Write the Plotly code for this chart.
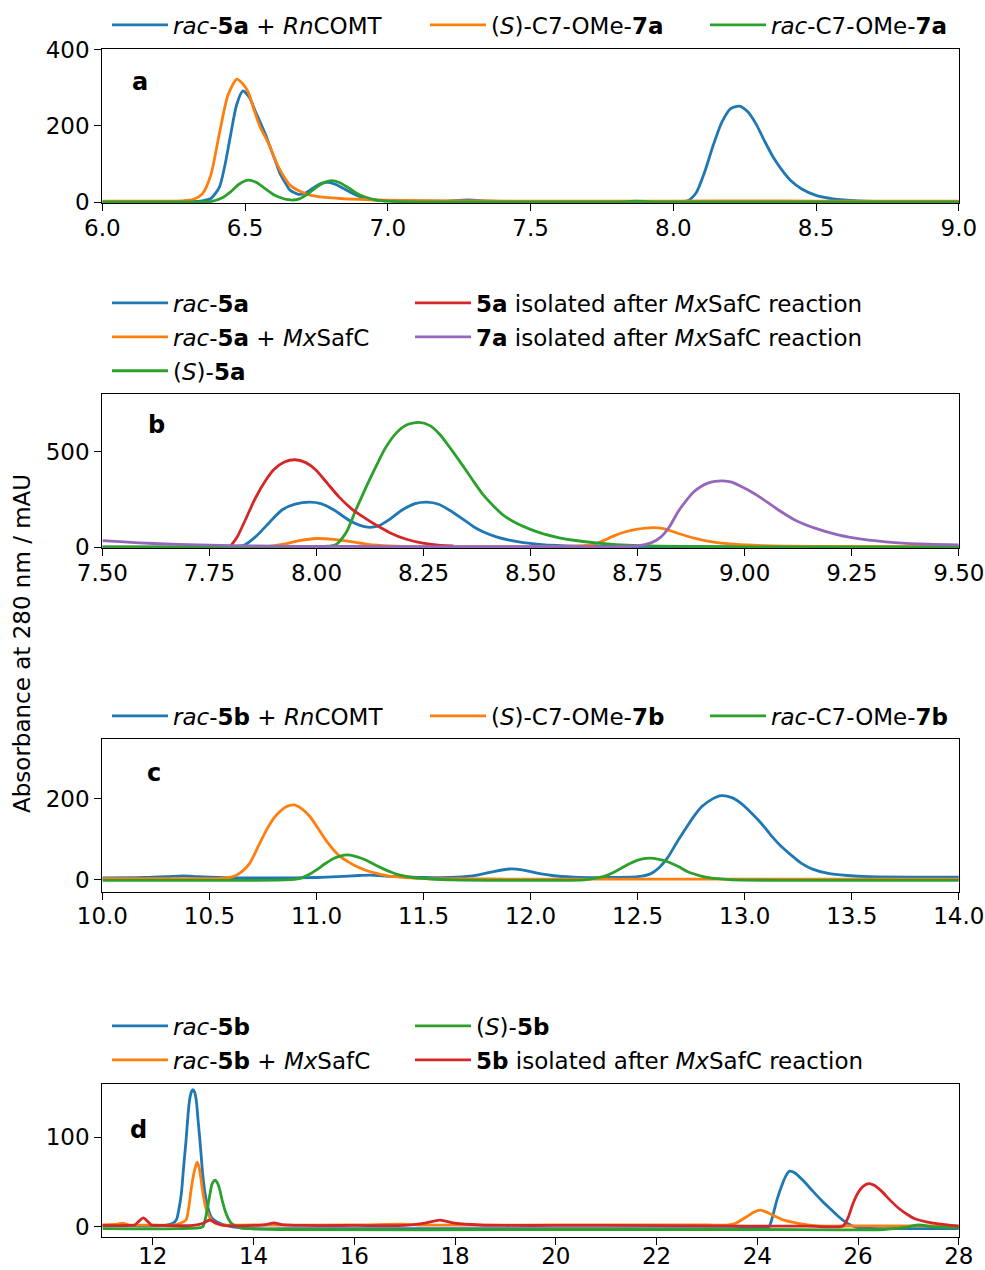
import plotly.graph_objects as go

# ---------------- panel a : rac-5a / RnCOMT, retention 6-9 min ----------------
a_blue_x = [6.00, 6.20, 6.30, 6.35, 6.38, 6.41, 6.43, 6.45, 6.47, 6.492, 6.515, 6.535, 6.552, 6.57,
            6.587, 6.605, 6.622, 6.64, 6.657, 6.686, 6.71, 6.74, 6.765, 6.792, 6.82, 6.845, 6.875,
            6.903, 6.93, 6.96, 7.00, 7.10, 7.20, 7.28, 7.36, 7.50, 7.70, 7.90, 8.00, 8.05, 8.08,
            8.11, 8.14, 8.17, 8.20, 8.231, 8.26, 8.29, 8.32, 8.35, 8.38, 8.41, 8.45, 8.50, 8.56,
            8.65, 8.80, 9.00]
a_blue_y = [2, 2, 2, 4, 10, 40, 100, 180, 255, 292, 275, 240, 211, 180,
            146, 110, 76, 52, 32, 21, 24, 38, 49, 52, 46, 36, 24,
            15, 9, 6, 4, 3, 3, 6, 3, 2, 2, 2, 2, 4, 25,
            80, 150, 210, 245, 252, 238, 205, 160, 118, 85, 58, 35, 18, 9,
            4, 2, 2]

a_orange_x = [6.00, 6.20, 6.28, 6.32, 6.35, 6.38, 6.41, 6.44, 6.471, 6.49, 6.51, 6.53, 6.552,
              6.57, 6.587, 6.605, 6.622, 6.64, 6.657, 6.686, 6.727, 6.792, 6.85, 6.903, 6.96,
              7.05, 7.20, 7.50, 7.80, 8.00, 8.30, 8.50, 8.80, 9.00]
a_orange_y = [3, 3, 4, 8, 22, 72, 181, 281, 323, 312, 290, 245, 198,
              172, 146, 112, 85, 62, 45, 31, 19, 12, 9, 8, 6,
              5, 4, 3, 3, 3, 4, 3, 3, 3]

a_green_x = [6.00, 6.30, 6.38, 6.42, 6.45, 6.48, 6.51, 6.54, 6.566, 6.60, 6.625, 6.65, 6.669,
             6.69, 6.72, 6.75, 6.78, 6.804, 6.83, 6.86, 6.89, 6.92, 6.96, 7.00, 7.10, 7.50,
             7.80, 7.87, 7.95, 8.20, 8.60, 9.00]
a_green_y = [1, 1, 2, 12, 28, 48, 58, 52, 38, 20, 12, 7, 6,
             9, 22, 40, 53, 57, 52, 39, 24, 14, 6, 3, 1, 1,
             1, 3, 1, 1, 1, 1]

# ---------------- panel b : rac-5a / MxSafC, retention 7.5-9.5 min ----------------
b_blue_x = [7.50, 7.70, 7.80, 7.83, 7.86, 7.89, 7.92, 7.95, 7.984, 8.01, 8.04, 8.077, 8.10, 8.12,
            8.145, 8.17, 8.20, 8.23, 8.258, 8.285, 8.31, 8.34, 8.366, 8.39, 8.42, 8.45, 8.483,
            8.52, 8.56, 8.62, 8.70, 8.90, 9.20, 9.50]
b_blue_y = [2, 2, 3, 10, 60, 130, 196, 225, 236, 228, 196, 140, 116, 105,
            112, 145, 195, 228, 236, 225, 195, 150, 109, 80, 55, 38, 25,
            16, 10, 6, 4, 3, 2, 2]

b_orange_x = [7.50, 7.80, 7.88, 7.92, 7.96, 8.00, 8.04, 8.08, 8.12, 8.17, 8.25, 8.40, 8.55, 8.62,
              8.648, 8.67, 8.695, 8.72, 8.75, 8.785, 8.81, 8.843, 8.882, 8.92, 8.975, 9.04,
              9.20, 9.50]
b_orange_y = [1, 1, 3, 15, 35, 46, 42, 30, 16, 8, 4, 3, 4, 8,
              15, 35, 60, 80, 95, 103, 98, 74, 48, 30, 16, 9,
              5, 4]

b_green_x = [7.50, 7.80, 7.95, 8.02, 8.045, 8.07, 8.092, 8.115, 8.139, 8.16, 8.186, 8.21, 8.239,
             8.265, 8.2875, 8.315, 8.342, 8.365, 8.39, 8.415, 8.436, 8.465, 8.498, 8.53, 8.567,
             8.60, 8.648, 8.70, 8.726, 8.80, 9.00, 9.50]
b_green_y = [1, 1, 2, 5, 14, 80, 196, 310, 422, 515, 596, 638, 652,
             635, 590, 510, 425, 350, 272, 212, 168, 128, 95, 70, 50,
             37, 24, 14, 11, 6, 2, 1]

b_red_x = [7.80, 7.815, 7.834, 7.858, 7.88, 7.90, 7.925, 7.95, 7.975, 7.998, 8.025, 8.053, 8.08,
           8.108, 8.14, 8.17, 8.21, 8.248, 8.29, 8.32]
b_red_y = [8, 55, 144, 260, 345, 405, 445, 457, 442, 405, 335, 262, 205,
           160, 115, 78, 42, 22, 10, 8]

b_purple_x = [7.50, 7.55, 7.62, 7.70, 7.80, 7.90, 8.00, 8.20, 8.50, 8.70, 8.75, 8.78, 8.804,
              8.825, 8.843, 8.862, 8.882, 8.90, 8.914, 8.93, 8.949, 8.97, 8.992, 9.015, 9.039,
              9.078, 9.117, 9.164, 9.218, 9.273, 9.351, 9.429, 9.50]
b_purple_y = [35, 28, 20, 14, 9, 6, 5, 4, 3, 4, 7, 22, 53,
              110, 181, 240, 291, 320, 335, 344, 347, 340, 317, 290, 257,
              196, 143, 100, 65, 43, 25, 16, 13]

# ---------------- panel c : rac-5b / RnCOMT, retention 10-14 min ----------------
c_blue_x = [10.00, 10.20, 10.30, 10.378, 10.45, 10.60, 10.80, 11.00, 11.10, 11.20, 11.25, 11.35,
            11.50, 11.65, 11.75, 11.82, 11.90, 11.96, 12.02, 12.10, 12.20, 12.35, 12.50, 12.56,
            12.60, 12.64, 12.68, 12.72, 12.76, 12.80, 12.85, 12.891, 12.94, 12.98, 13.03,
            13.077, 13.12, 13.17, 13.22, 13.265, 13.32, 13.39, 13.48, 13.578, 13.80, 14.00]
c_blue_y = [5, 6, 8, 10, 8, 5, 5, 6, 8, 11, 12, 9,
            6, 7, 12, 20, 27, 25, 18, 11, 7, 6, 8, 15,
            30, 55, 90, 123, 155, 181, 200, 208, 203, 190, 166,
            140, 112, 83, 60, 41, 26, 16, 11, 8, 7, 7]

c_orange_x = [10.00, 10.40, 10.55, 10.61, 10.65, 10.688, 10.73, 10.766, 10.80, 10.829, 10.86,
              10.895, 10.93, 10.97, 11.01, 11.048, 11.08, 11.11, 11.15, 11.188, 11.23, 11.282,
              11.33, 11.39, 11.47, 11.55, 12.00, 13.00, 14.00]
c_orange_y = [3, 3, 4, 8, 20, 41, 85, 123, 152, 169, 181,
              185, 176, 156, 125, 95, 74, 58, 44, 33, 24, 16,
              10, 7, 4, 3, 2, 2, 2]

c_green_x = [10.00, 10.60, 10.85, 10.92, 10.96, 11.00, 11.04, 11.08, 11.11, 11.148, 11.19, 11.23,
             11.27, 11.31, 11.35, 11.39, 11.45, 11.52, 11.63, 12.00, 12.25, 12.31, 12.36, 12.40,
             12.45, 12.50, 12.555, 12.60, 12.64, 12.69, 12.734, 12.78, 12.83, 12.90, 12.95,
             13.20, 13.60, 14.00]
c_green_y = [-1, -1, 0, 3, 12, 25, 40, 53, 59, 62, 57, 49,
             38, 28, 19, 12, 6, 3, 0, -1, 0, 5, 12, 22,
             37, 49, 54, 51, 45, 33, 20, 12, 6, 2, 0,
             -1, -1, -1]

# ---------------- panel d : rac-5b / MxSafC, retention 11-28 min ----------------
d_blue_x = [11.00, 11.50, 12.00, 12.27, 12.40, 12.47, 12.52, 12.567, 12.61, 12.66, 12.70, 12.73,
            12.765, 12.797, 12.83, 12.863, 12.90, 12.93, 12.96, 12.99, 13.06, 13.16, 13.33,
            13.59, 13.93, 15.00, 18.00, 21.00, 23.50, 24.10, 24.23, 24.32, 24.39, 24.50, 24.57,
            24.64, 24.75, 24.90, 25.05, 25.18, 25.30, 25.45, 25.60, 25.73, 25.85, 26.00, 26.50,
            27.00, 28.00]
d_blue_y = [1, 1, 1, 2, 4, 8, 20, 37, 65, 96, 125, 141,
            150, 152.6, 150, 141, 118, 100, 80, 59, 30, 11, 4,
            0, -2, -2, -2, -2, -2, -1, 0, 15, 30, 48, 57,
            62, 60, 52, 43, 35, 28, 20, 12, 6, 2, -1, -2,
            -2, -2]

d_orange_x = [11.00, 11.30, 11.40, 11.55, 12.00, 12.40, 12.55, 12.66, 12.71, 12.76, 12.80, 12.83,
              12.88, 12.92, 12.96, 13.00, 13.05, 13.10, 13.16, 13.25, 13.39, 14.00, 16.00, 16.97,
              17.30, 20.00, 23.00, 23.40, 23.56, 23.78, 23.92, 24.06, 24.20, 24.34, 24.50, 24.67,
              24.90, 25.23, 26.00, 28.00]
d_orange_y = [2, 3, 4, 2, 2, 2, 4, 7.6, 20, 41, 55, 63,
              72, 66, 52, 36, 22, 14, 8, 4, 2, 2, 2, 3,
              2, 2, 2, 2, 3.7, 11, 16, 18.5, 16, 12, 8, 5.5,
              3, 1, 1, 1]

d_green_x = [11.00, 12.50, 12.99, 13.04, 13.09, 13.14, 13.18, 13.24, 13.29, 13.33, 13.38, 13.43,
             13.50, 13.56, 13.73, 14.50, 20.00, 24.00, 26.50, 26.90, 27.19, 27.50, 28.00]
d_green_y = [-2, -2, 0, 8, 22, 38, 48, 52, 48, 41, 29, 19,
             9, 4, -1, -3, -3, -3, -3, -1, 2, 0, -1]

d_red_x = [11.00, 11.50, 11.64, 11.72, 11.81, 11.90, 11.97, 12.20, 12.80, 13.00, 13.13, 13.26,
           13.40, 14.00, 14.25, 14.40, 14.55, 15.00, 16.00, 17.00, 17.40, 17.70, 18.00, 18.50,
           19.00, 20.00, 21.00, 23.00, 25.00, 25.70, 25.80, 25.90, 26.00, 26.10, 26.21, 26.33,
           26.46, 26.63, 26.80, 26.97, 27.13, 27.46, 28.00]
d_red_y = [1.5, 1.5, 2, 6, 10, 6, 2, 1.5, 1.5, 4, 7.6, 4,
           1.5, 1.5, 2.5, 4.5, 2.5, 1.5, 1.5, 1.5, 4, 7.4, 4, 2,
           1.5, 1.5, 1.5, 1, 0.7, 1, 10, 26, 38, 45, 48, 46,
           40, 30, 21, 14, 9, 4.4, 0.7]

# ---------------- legend labels ----------------
a_names = ["<i>rac</i>-<b>5a</b> + <i>Rn</i>COMT", "(<i>S</i>)-C7-OMe-<b>7a</b>",
           "<i>rac</i>-C7-OMe-<b>7a</b>"]
b_names = ["<i>rac</i>-<b>5a</b>", "<i>rac</i>-<b>5a</b> + <i>Mx</i>SafC", "(<i>S</i>)-<b>5a</b>",
           "<b>5a</b> isolated after <i>Mx</i>SafC reaction",
           "<b>7a</b> isolated after <i>Mx</i>SafC reaction"]
c_names = ["<i>rac</i>-<b>5b</b> + <i>Rn</i>COMT", "(<i>S</i>)-C7-OMe-<b>7b</b>",
           "<i>rac</i>-C7-OMe-<b>7b</b>"]
d_names = ["<i>rac</i>-<b>5b</b>", "<i>rac</i>-<b>5b</b> + <i>Mx</i>SafC", "(<i>S</i>)-<b>5b</b>",
           "<b>5b</b> isolated after <i>Mx</i>SafC reaction"]

panel_letters = ["a", "b", "c", "d"]
x_ranges = [[6.0, 9.0], [7.5, 9.5], [10.0, 14.0], [11.0, 28.0]]
y_ranges = [[-2.6, 401], [-5, 800], [-29, 347], [-11, 159]]
x_ticks = [[6.0, 6.5, 7.0, 7.5, 8.0, 8.5, 9.0],
           [7.5, 7.75, 8.0, 8.25, 8.5, 8.75, 9.0, 9.25, 9.5],
           [10.0, 10.5, 11.0, 11.5, 12.0, 12.5, 13.0, 13.5, 14.0],
           [12, 14, 16, 18, 20, 22, 24, 26, 28]]
x_formats = [".1f", ".2f", ".1f", "d"]
y_ticks = [[0, 200, 400], [0, 500], [0, 200], [0, 100]]

COLORS = ["#1f77b4", "#ff7f0e", "#2ca02c", "#d62728", "#9467bd"]
FONT = "DejaVu Sans"
FS = 23
W, H = 985, 1270

# plot-area geometry in pixels
x_left, x_right = 102.4, 958.8
y_spans = [(49.3, 203.3), (394.0, 548.3), (739.3, 891.7), (1084.0, 1236.7)]
# shift of the x tick labels towards the axis (the bottom panel sits close to the page edge)
x_label_standoff = [-3, -3, -3, -8]

fig = go.Figure()

panels = [
    [(a_blue_x, a_blue_y), (a_orange_x, a_orange_y), (a_green_x, a_green_y)],
    [(b_blue_x, b_blue_y), (b_orange_x, b_orange_y), (b_green_x, b_green_y),
     (b_red_x, b_red_y), (b_purple_x, b_purple_y)],
    [(c_blue_x, c_blue_y), (c_orange_x, c_orange_y), (c_green_x, c_green_y)],
    [(d_blue_x, d_blue_y), (d_orange_x, d_orange_y), (d_green_x, d_green_y),
     (d_red_x, d_red_y)],
]
names = [a_names, b_names, c_names, d_names]

# legend id for each trace: single-row legends (a, c) get one legend per entry,
# two-column legends (b, d) get one legend per column
legend_ids = [
    ["legend", "legend2", "legend3"],
    ["legend4", "legend4", "legend4", "legend5", "legend5"],
    ["legend6", "legend7", "legend8"],
    ["legend9", "legend9", "legend10", "legend10"],
]

for p, series in enumerate(panels):
    sfx = "" if p == 0 else str(p + 1)
    for k, (xs, ys) in enumerate(series):
        fig.add_trace(go.Scatter(
            x=xs, y=ys, mode="lines", name=names[p][k],
            line=dict(color=COLORS[k], width=2.8, shape="spline", smoothing=0.7),
            xaxis="x" + sfx, yaxis="y" + sfx, legend=legend_ids[p][k],
            legendgroup="g%d_%d" % (p, k), showlegend=True,
        ))

layout = dict(
    width=W, height=H, margin=dict(l=0, r=0, t=0, b=0, autoexpand=False),
    paper_bgcolor="white", plot_bgcolor="white",
    font=dict(family=FONT, size=FS, color="black"),
    annotations=[],
)

axis_common = dict(
    showline=True, linecolor="black", linewidth=1.3, mirror=True,
    ticks="outside", ticklen=7, tickwidth=1.3, tickcolor="black",
    showgrid=False, zeroline=False, automargin=False,
    tickfont=dict(family=FONT, size=FS, color="black"),
)

for p in range(4):
    sfx = "" if p == 0 else str(p + 1)
    top, bot = y_spans[p]
    layout["xaxis" + sfx] = dict(
        axis_common, domain=[x_left / W, x_right / W], range=x_ranges[p],
        anchor="y" + sfx, tickvals=x_ticks[p], tickformat=x_formats[p],
        ticklabelstandoff=x_label_standoff[p],
    )
    layout["yaxis" + sfx] = dict(
        axis_common, domain=[1 - bot / H, 1 - top / H], range=y_ranges[p],
        anchor="x" + sfx, tickvals=y_ticks[p],
    )

legend_common = dict(
    font=dict(family=FONT, size=FS, color="black"),
    bgcolor="rgba(0,0,0,0)", borderwidth=0, orientation="v",
    xanchor="left", yanchor="middle", itemwidth=56,
    itemclick=False, itemdoubleclick=False, tracegroupgap=1,
)

# legend anchor positions in pixels (left edge, vertical centre)
legend_pos = {
    "legend": (107, 25), "legend2": (425, 25), "legend3": (705, 25),
    "legend4": (107, 337), "legend5": (410, 320),
    "legend6": (107, 716), "legend7": (425, 716), "legend8": (705, 716),
    "legend9": (107, 1043), "legend10": (410, 1043),
}
for lid, (lx, ly) in legend_pos.items():
    layout[lid] = dict(legend_common, x=lx / W, y=1 - ly / H)

label_pos = [(0.044, 0.79), (0.0626, 0.80), (0.060, 0.78), (0.0427, 0.70)]
for p in range(4):
    sfx = "" if p == 0 else str(p + 1)
    lx, ly = label_pos[p]
    layout["annotations"].append(dict(
        text="<b>%s</b>" % panel_letters[p], x=lx, y=ly,
        xref="x%s domain" % sfx, yref="y%s domain" % sfx,
        xanchor="center", yanchor="middle", showarrow=False,
        font=dict(family=FONT, size=24, color="black"),
    ))

layout["annotations"].append(dict(
    text="Absorbance at 280 nm / mAU", x=22 / W, y=1 - 644 / H,
    xref="paper", yref="paper", textangle=-90, showarrow=False,
    xanchor="center", yanchor="middle",
    font=dict(family=FONT, size=FS, color="black"),
))

fig.update_layout(**layout)
fig.write_html("out.html")
